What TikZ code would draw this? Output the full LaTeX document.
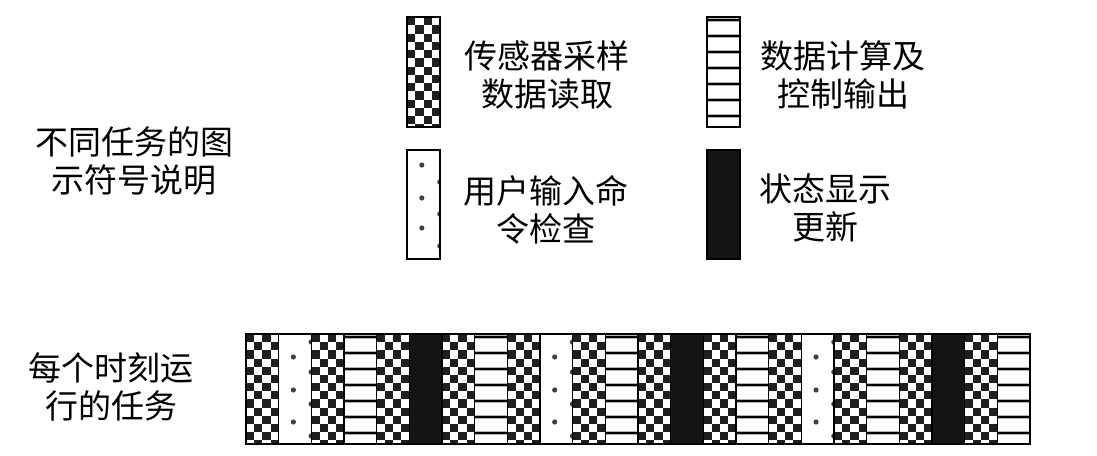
\documentclass[tikz,border=0pt]{standalone}
\usepackage{fontspec}
\setmainfont{Noto Sans CJK SC}
\newcommand{\chkbox}[4]{%
  \fill[white] (#1,#2) rectangle ++(#3,#4);
  \begin{scope}
    \clip (#1,#2) rectangle ++(#3,#4);
    \pgfmathsetmacro{\cs}{#3/4}
    \foreach \i in {0,...,3}{\foreach \j in {0,...,13}{
      \pgfmathtruncatemacro{\parity}{mod(\i+\j,2)}
      \ifnum\parity=0 \fill[black!88] (#1+\i*\cs,#2+\j*\cs) rectangle ++(\cs,\cs);\fi
    }}
  \end{scope}
  \draw[line width=1.2] (#1,#2) rectangle ++(#3,#4);
}
\newcommand{\strbox}[4]{%
  \fill[white] (#1,#2) rectangle ++(#3,#4);
  \begin{scope}
    \clip (#1,#2) rectangle ++(#3,#4);
    \foreach \k in {0,...,6}{
      \draw[black!30, line width=4.6] (#1,#2+3+\k*16) -- ++(#3,0);
      \draw[black, line width=1.9] (#1,#2+3+\k*16) -- ++(#3,0);
    }
  \end{scope}
  \draw[line width=1.2] (#1,#2) rectangle ++(#3,#4);
}
\newcommand{\dotbox}[6]{%
  \fill[white] (#1,#2) rectangle ++(#3,#4);
  \foreach \yy in {#5}{\fill[black!75] (#1+0.45*#3,#2+\yy) circle (2.6);}
  \begin{scope}
    \clip (#1,#2) rectangle ++(#3,#4);
    \foreach \yy in {#6}{\fill[black!75] (#1+#3,#2+\yy) circle (2.8);}
  \end{scope}
  \draw[line width=1.2] (#1,#2) rectangle ++(#3,#4);
}
\newcommand{\blkbox}[4]{%
  \fill[black!92] (#1,#2) rectangle ++(#3,#4);
  \draw[line width=1.2] (#1,#2) rectangle ++(#3,#4);
}
\tikzset{
  lbl/.style={align=center, inner sep=0pt, font=\fontsize{33}{38}\selectfont},
}
\begin{document}
\begin{tikzpicture}[x=1pt, y=-1pt]
\useasboundingbox (0,0) rectangle (1097,455);
% legend boxes
\chkbox{407}{17}{33}{110}
\strbox{707}{17}{33}{110}
\dotbox{407}{150}{33}{109}{15,48,78}{32,64,96}
\blkbox{707}{150}{33}{109}
% texts
\node[lbl] (title) at (134,161) {不同任务的图\\示符号说明};
\node[lbl] (t1) at (547,75) {传感器采样\\数据读取};
\node[lbl] (t2) at (843,75) {数据计算及\\控制输出};
\node[lbl] (t3) at (546,210) {用户输入命\\令检查};
\node[lbl] (t4) at (825,208) {状态显示\\更新};
\node[lbl] (run) at (111,387) {每个时刻运\\行的任务};
% bar
\pgfmathsetmacro{\sw}{784/24}
\foreach \n in {0,2,...,22}{\chkbox{246+\n*\sw}{334}{\sw}{110}}
\foreach \n in {1,9,17}{\dotbox{246+\n*\sw}{334}{\sw}{110}{23,56,88}{8,38,70,102}}
\foreach \n in {3,7,11,15,19,23}{\strbox{246+\n*\sw}{334}{\sw}{110}}
\foreach \n in {5,13,21}{\blkbox{246+\n*\sw}{334}{\sw}{110}}
\draw[line width=2] (246,334) rectangle (1030,444);
\end{tikzpicture}
\end{document}
